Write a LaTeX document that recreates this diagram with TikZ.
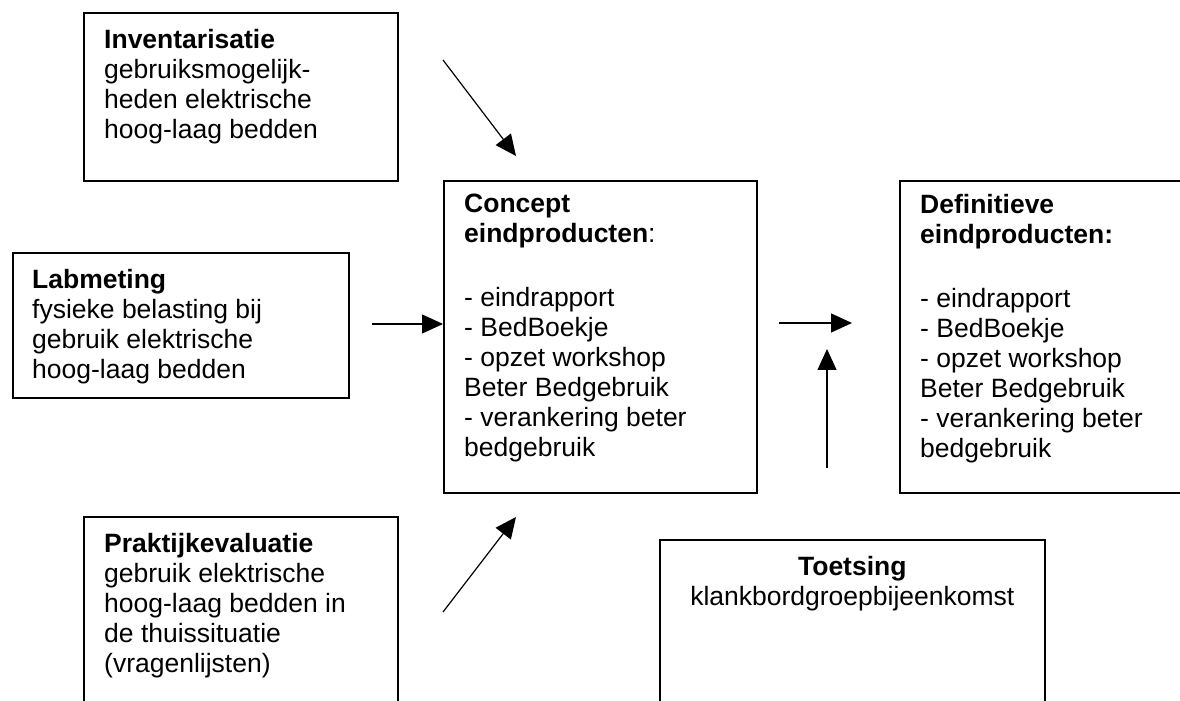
\documentclass[tikz,border=0pt]{standalone}
\usepackage{fontspec}
\setmainfont{Liberation Sans}
\usetikzlibrary{positioning,arrows.meta}

\begin{document}
\begin{tikzpicture}[x=1pt, y=1pt,
    box/.style={draw, line width=1.6pt, inner sep=0pt, anchor=north west},
    txt/.style={inner sep=0pt, align=left, anchor=north west,
        font=\fontsize{26.5}{30}\selectfont},
    pijl/.style={-{Triangle[length=21pt,width=19pt]}, line width=1.2pt}]
    \useasboundingbox (0,0) rectangle (1180,701);

    % boxes
    \node[box, minimum width=314, minimum height=168] (inv) at (83,689) {};
    \node[box, minimum width=336, minimum height=145] (lab) at (12,449) {};
    \node[box, minimum width=314, minimum height=210] (prak) at (83,185) {};
    \node[box, minimum width=313, minimum height=312] (con) at (443,521) {};
    \node[box, minimum width=300, minimum height=312] (def) at (899,521) {};
    \node[box, minimum width=385, minimum height=190] (toets) at (659,162) {};

    % texts
    \node[txt] (invtxt) at ([xshift=21pt, yshift=-17pt]inv.north west)
        {\textbf{Inventarisatie}\\ gebruiksmogelijk-\\ heden elektrische\\ hoog-laag bedden};
    \node[txt] (labtxt) at ([xshift=20pt, yshift=-17pt]lab.north west)
        {\textbf{Labmeting}\\ fysieke belasting bij\\ gebruik elektrische\\ hoog-laag bedden};
    \node[txt] (praktxt) at ([xshift=21pt, yshift=-17pt]prak.north west)
        {\textbf{Praktijkevaluatie}\\ gebruik elektrische\\ hoog-laag bedden in\\ de thuissituatie\\ (vragenlijsten)};
    \node[txt] (contxt) at ([xshift=21pt, yshift=-14pt]con.north west)
        {\textbf{Concept}\\ \textbf{eindproducten}:\\[34pt] - eindrapport\\ - BedBoekje\\
         - opzet workshop\\ Beter Bedgebruik\\ - verankering beter\\ bedgebruik};
    \node[txt] (deftxt) at ([xshift=21pt, yshift=-14pt]def.north west)
        {\textbf{Definitieve}\\ \textbf{eindproducten:}\\[34pt] - eindrapport\\ - BedBoekje\\
         - opzet workshop\\ Beter Bedgebruik\\ - verankering beter\\ bedgebruik};
    \node[txt, align=center, anchor=north] (toetstxt) at ([yshift=-17pt]toets.north)
        {\textbf{Toetsing}\\ klankbordgroepbijeenkomst};

    % arrows
    \coordinate (a1) at (443,641);
    \coordinate (a2) at (372,377);
    \coordinate (a3) at (443,89);
    \coordinate (a4) at (779,378);
    \coordinate (a5) at (827,233);

    \draw[pijl] (a1) -- (516,545);
    \draw[pijl] (a2) -- (a2 -| con.west);
    \draw[pijl] (a3) -- (516,184);
    \draw[pijl] (a4) -- (852,378);
    \draw[pijl] (a5) -- (827,352);
\end{tikzpicture}
\end{document}
